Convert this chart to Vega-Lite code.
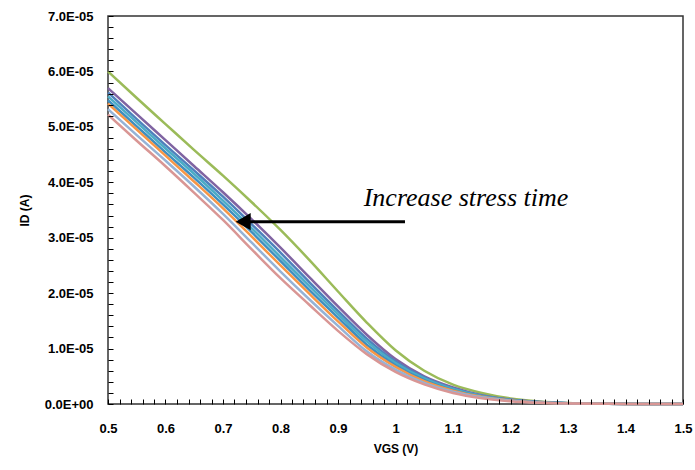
{
"$schema": "https://vega.github.io/schema/vega-lite/v6.json",
"width": 575, "height": 388,
"autosize": {"type": "none"},
"padding": {"left": 108, "top": 16, "right": 12, "bottom": 66},
"background": "white",
"config": {"view": {"stroke": "#333333", "strokeWidth": 1.5}, "font": "Liberation Sans"},
"datasets": {
"curves": [
{"s":"s1","v":0.5,"i":6.00e-5},{"s":"s1","v":0.55,"i":5.52e-5},{"s":"s1","v":0.6,"i":5.05e-5},{"s":"s1","v":0.65,"i":4.58e-5},{"s":"s1","v":0.7,"i":4.12e-5},{"s":"s1","v":0.75,"i":3.64e-5},{"s":"s1","v":0.8,"i":3.14e-5},{"s":"s1","v":0.85,"i":2.60e-5},{"s":"s1","v":0.9,"i":2.03e-5},{"s":"s1","v":0.95,"i":1.47e-5},{"s":"s1","v":1.0,"i":0.97e-5},{"s":"s1","v":1.05,"i":0.60e-5},{"s":"s1","v":1.1,"i":0.35e-5},{"s":"s1","v":1.15,"i":0.20e-5},{"s":"s1","v":1.2,"i":0.10e-5},{"s":"s1","v":1.25,"i":0.045e-5},{"s":"s1","v":1.3,"i":0.018e-5},{"s":"s1","v":1.35,"i":0.007e-5},{"s":"s1","v":1.4,"i":0.003e-5},{"s":"s1","v":1.45,"i":0.001e-5},{"s":"s1","v":1.5,"i":0},
{"s":"s2","v":0.5,"i":5.70e-5},{"s":"s2","v":0.55,"i":5.23e-5},{"s":"s2","v":0.6,"i":4.76e-5},{"s":"s2","v":0.65,"i":4.29e-5},{"s":"s2","v":0.7,"i":3.82e-5},{"s":"s2","v":0.75,"i":3.33e-5},{"s":"s2","v":0.8,"i":2.82e-5},{"s":"s2","v":0.85,"i":2.29e-5},{"s":"s2","v":0.9,"i":1.76e-5},{"s":"s2","v":0.95,"i":1.25e-5},{"s":"s2","v":1.0,"i":0.81e-5},{"s":"s2","v":1.05,"i":0.50e-5},{"s":"s2","v":1.1,"i":0.30e-5},{"s":"s2","v":1.15,"i":0.16e-5},{"s":"s2","v":1.2,"i":0.081e-5},{"s":"s2","v":1.25,"i":0.036e-5},{"s":"s2","v":1.3,"i":0.0146e-5},{"s":"s2","v":1.35,"i":0.0058e-5},{"s":"s2","v":1.4,"i":0.0024e-5},{"s":"s2","v":1.45,"i":0.0007e-5},{"s":"s2","v":1.5,"i":0},
{"s":"s3","v":0.5,"i":5.62e-5},{"s":"s3","v":0.55,"i":5.14e-5},{"s":"s3","v":0.6,"i":4.67e-5},{"s":"s3","v":0.65,"i":4.21e-5},{"s":"s3","v":0.7,"i":3.74e-5},{"s":"s3","v":0.75,"i":3.24e-5},{"s":"s3","v":0.8,"i":2.73e-5},{"s":"s3","v":0.85,"i":2.20e-5},{"s":"s3","v":0.9,"i":1.68e-5},{"s":"s3","v":0.95,"i":1.18e-5},{"s":"s3","v":1.0,"i":0.77e-5},{"s":"s3","v":1.05,"i":0.48e-5},{"s":"s3","v":1.1,"i":0.28e-5},{"s":"s3","v":1.15,"i":0.15e-5},{"s":"s3","v":1.2,"i":0.076e-5},{"s":"s3","v":1.25,"i":0.034e-5},{"s":"s3","v":1.3,"i":0.0136e-5},{"s":"s3","v":1.35,"i":0.0054e-5},{"s":"s3","v":1.4,"i":0.0022e-5},{"s":"s3","v":1.45,"i":0.0006e-5},{"s":"s3","v":1.5,"i":0},
{"s":"s4","v":0.5,"i":5.55e-5},{"s":"s4","v":0.55,"i":5.08e-5},{"s":"s4","v":0.6,"i":4.61e-5},{"s":"s4","v":0.65,"i":4.15e-5},{"s":"s4","v":0.7,"i":3.67e-5},{"s":"s4","v":0.75,"i":3.17e-5},{"s":"s4","v":0.8,"i":2.65e-5},{"s":"s4","v":0.85,"i":2.13e-5},{"s":"s4","v":0.9,"i":1.62e-5},{"s":"s4","v":0.95,"i":1.13e-5},{"s":"s4","v":1.0,"i":0.74e-5},{"s":"s4","v":1.05,"i":0.46e-5},{"s":"s4","v":1.1,"i":0.27e-5},{"s":"s4","v":1.15,"i":0.145e-5},{"s":"s4","v":1.2,"i":0.072e-5},{"s":"s4","v":1.25,"i":0.032e-5},{"s":"s4","v":1.3,"i":0.0128e-5},{"s":"s4","v":1.35,"i":0.005e-5},{"s":"s4","v":1.4,"i":0.002e-5},{"s":"s4","v":1.45,"i":0.0005e-5},{"s":"s4","v":1.5,"i":0},
{"s":"s5","v":0.5,"i":5.48e-5},{"s":"s5","v":0.55,"i":5.01e-5},{"s":"s5","v":0.6,"i":4.54e-5},{"s":"s5","v":0.65,"i":4.08e-5},{"s":"s5","v":0.7,"i":3.60e-5},{"s":"s5","v":0.75,"i":3.10e-5},{"s":"s5","v":0.8,"i":2.58e-5},{"s":"s5","v":0.85,"i":2.06e-5},{"s":"s5","v":0.9,"i":1.56e-5},{"s":"s5","v":0.95,"i":1.07e-5},{"s":"s5","v":1.0,"i":0.70e-5},{"s":"s5","v":1.05,"i":0.43e-5},{"s":"s5","v":1.1,"i":0.25e-5},{"s":"s5","v":1.15,"i":0.135e-5},{"s":"s5","v":1.2,"i":0.067e-5},{"s":"s5","v":1.25,"i":0.030e-5},{"s":"s5","v":1.3,"i":0.012e-5},{"s":"s5","v":1.35,"i":0.0048e-5},{"s":"s5","v":1.4,"i":0.0019e-5},{"s":"s5","v":1.45,"i":0.0005e-5},{"s":"s5","v":1.5,"i":0},
{"s":"s6","v":0.5,"i":5.42e-5},{"s":"s6","v":0.55,"i":4.95e-5},{"s":"s6","v":0.6,"i":4.48e-5},{"s":"s6","v":0.65,"i":4.01e-5},{"s":"s6","v":0.7,"i":3.53e-5},{"s":"s6","v":0.75,"i":3.02e-5},{"s":"s6","v":0.8,"i":2.50e-5},{"s":"s6","v":0.85,"i":1.99e-5},{"s":"s6","v":0.9,"i":1.49e-5},{"s":"s6","v":0.95,"i":1.02e-5},{"s":"s6","v":1.0,"i":0.67e-5},{"s":"s6","v":1.05,"i":0.41e-5},{"s":"s6","v":1.1,"i":0.24e-5},{"s":"s6","v":1.15,"i":0.13e-5},{"s":"s6","v":1.2,"i":0.063e-5},{"s":"s6","v":1.25,"i":0.028e-5},{"s":"s6","v":1.3,"i":0.0113e-5},{"s":"s6","v":1.35,"i":0.0045e-5},{"s":"s6","v":1.4,"i":0.0018e-5},{"s":"s6","v":1.45,"i":0.0004e-5},{"s":"s6","v":1.5,"i":0},
{"s":"s7","v":0.5,"i":5.32e-5},{"s":"s7","v":0.55,"i":4.85e-5},{"s":"s7","v":0.6,"i":4.39e-5},{"s":"s7","v":0.65,"i":3.92e-5},{"s":"s7","v":0.7,"i":3.43e-5},{"s":"s7","v":0.75,"i":2.91e-5},{"s":"s7","v":0.8,"i":2.39e-5},{"s":"s7","v":0.85,"i":1.89e-5},{"s":"s7","v":0.9,"i":1.41e-5},{"s":"s7","v":0.95,"i":0.95e-5},{"s":"s7","v":1.0,"i":0.62e-5},{"s":"s7","v":1.05,"i":0.38e-5},{"s":"s7","v":1.1,"i":0.22e-5},{"s":"s7","v":1.15,"i":0.12e-5},{"s":"s7","v":1.2,"i":0.057e-5},{"s":"s7","v":1.25,"i":0.025e-5},{"s":"s7","v":1.3,"i":0.0102e-5},{"s":"s7","v":1.35,"i":0.0041e-5},{"s":"s7","v":1.4,"i":0.0016e-5},{"s":"s7","v":1.45,"i":0.0003e-5},{"s":"s7","v":1.5,"i":0},
{"s":"s8","v":0.5,"i":5.22e-5},{"s":"s8","v":0.55,"i":4.75e-5},{"s":"s8","v":0.6,"i":4.29e-5},{"s":"s8","v":0.65,"i":3.81e-5},{"s":"s8","v":0.7,"i":3.32e-5},{"s":"s8","v":0.75,"i":2.79e-5},{"s":"s8","v":0.8,"i":2.27e-5},{"s":"s8","v":0.85,"i":1.79e-5},{"s":"s8","v":0.9,"i":1.32e-5},{"s":"s8","v":0.95,"i":0.90e-5},{"s":"s8","v":1.0,"i":0.58e-5},{"s":"s8","v":1.05,"i":0.355e-5},{"s":"s8","v":1.1,"i":0.20e-5},{"s":"s8","v":1.15,"i":0.105e-5},{"s":"s8","v":1.2,"i":0.050e-5},{"s":"s8","v":1.25,"i":0.022e-5},{"s":"s8","v":1.3,"i":0.009e-5},{"s":"s8","v":1.35,"i":0.0037e-5},{"s":"s8","v":1.4,"i":0.0014e-5},{"s":"s8","v":1.45,"i":0.0002e-5},{"s":"s8","v":1.5,"i":0}
],
"arrow": [{"v": 0.74, "v2": 1.0165, "i": 3.289e-5}],
"head": [{"v": 0.7351, "i": 3.289e-5}],
"note": [{"v": 1.1226, "i": 3.574e-5, "label": "Increase stress time"}]
},
"encoding": {
"x": {"field": "v", "type": "quantitative", "title": "VGS (V)", "scale": {"domain": [0.5, 1.5], "nice": false, "zero": false},
"axis": {"grid": false, "zindex": 1, "offset": -5, "domain": false, "tickCount": 50,
"labelExpr": "abs(datum.value*10 - round(datum.value*10)) < 0.001 ? format(datum.value, '~g') : ''",
"labelOverlap": false, "labelFlush": false,
"labelFont": "Liberation Sans", "labelFontWeight": "bold", "labelFontSize": 13, "labelColor": "black", "labelPadding": 18,
"tickColor": "#000000", "tickSize": 5, "tickOpacity": 1,
"titleFont": "Liberation Sans", "titleFontWeight": "bold", "titleFontSize": 12, "titleColor": "black", "titlePadding": 8}},
"y": {"field": "i", "type": "quantitative", "title": "ID (A)", "scale": {"domain": [0, 7e-5], "nice": false, "zero": true},
"axis": {"grid": false, "zindex": 1, "offset": -5, "domain": false, "tickCount": 35,
"labelExpr": "abs(datum.value*1e5 - round(datum.value*1e5)) < 0.001 ? (datum.value == 0 ? '0.0E+00' : format(datum.value*1e5, '.1f') + 'E-05') : ''",
"labelOverlap": false, "labelFlush": false,
"labelFont": "Liberation Sans", "labelFontWeight": "bold", "labelFontSize": 13, "labelColor": "black", "labelPadding": 15,
"tickColor": "#000000", "tickSize": 5, "tickOpacity": 1,
"titleFont": "Liberation Sans", "titleFontWeight": "bold", "titleFontSize": 12, "titleColor": "black", "titlePadding": 13}}
},
"layer": [
{
"data": {"name": "curves"},
"mark": {"type": "line", "strokeWidth": 2.5, "interpolate": "monotone"},
"encoding": {
"color": {"field": "s", "type": "nominal", "legend": null,
"scale": {"domain": ["s1","s2","s3","s4","s5","s6","s7","s8"], "range": ["#9BBB59","#8064A2","#4F81BD","#4BACC6","#3F8FC0","#F79646","#95B3D7","#D99694"]}}
}
},
{
"data": {"name": "arrow"},
"mark": {"type": "rule", "strokeWidth": 3, "color": "black"},
"encoding": {"x2": {"field": "v2"}}
},
{
"data": {"name": "head"},
"mark": {"type": "point", "shape": "triangle-left", "size": 300, "filled": true, "color": "black", "opacity": 1},
"encoding": {}
},
{
"data": {"name": "note"},
"mark": {"type": "text", "font": "Liberation Serif", "fontStyle": "italic", "fontSize": 26, "align": "center", "baseline": "alphabetic", "color": "black"},
"encoding": {"text": {"field": "label"}}
}
]
}
